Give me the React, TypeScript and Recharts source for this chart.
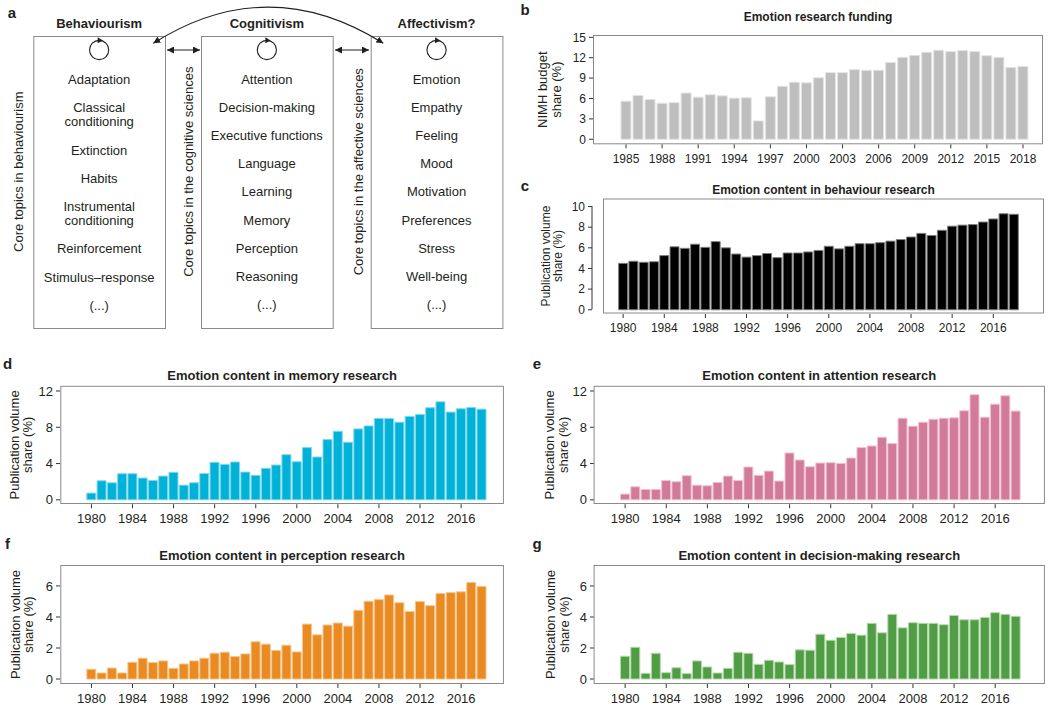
import React from 'react';
import { BarChart, Bar, XAxis, YAxis } from 'recharts';

const FONT = '"Liberation Sans", Arial, Helvetica, sans-serif';
const INK = '#231f20';
const FRAME = '#8a8a8a';

// ---- panel a topics
const behaviourTopics = ['Adaptation', 'Classical\nconditioning', 'Extinction', 'Habits', 'Instrumental\nconditioning', 'Reinforcement', 'Stimulus\u2013response', '(...)'];
const cognitiveTopics = ['Attention', 'Decision-making', 'Executive functions', 'Language', 'Learning', 'Memory', 'Perception', 'Reasoning', '(...)'];
const affectiveTopics = ['Emotion', 'Empathy', 'Feeling', 'Mood', 'Motivation', 'Preferences', 'Stress', 'Well-being', '(...)'];

// ---- bar data
const fundingYears = [1985, 1986, 1987, 1988, 1989, 1990, 1991, 1992, 1993, 1994, 1995, 1996, 1997, 1998, 1999, 2000, 2001, 2002, 2003, 2004, 2005, 2006, 2007, 2008, 2009, 2010, 2011, 2012, 2013, 2014, 2015, 2016, 2017, 2018];
const fundingShare = [5.6, 6.45, 5.85, 5.3, 5.4, 6.8, 6.2, 6.55, 6.4, 6.05, 6.1, 2.7, 6.25, 7.8, 8.4, 8.3, 9.05, 9.8, 9.8, 10.25, 10.15, 10.15, 11.3, 12.05, 12.35, 12.8, 13.1, 12.9, 13.05, 12.9, 12.3, 12.05, 10.55, 10.7];

const pubYears = [1980, 1981, 1982, 1983, 1984, 1985, 1986, 1987, 1988, 1989, 1990, 1991, 1992, 1993, 1994, 1995, 1996, 1997, 1998, 1999, 2000, 2001, 2002, 2003, 2004, 2005, 2006, 2007, 2008, 2009, 2010, 2011, 2012, 2013, 2014, 2015, 2016, 2017, 2018];
const behaviourShare = [4.5, 4.7, 4.6, 4.65, 5.25, 6.1, 5.95, 6.35, 6.05, 6.6, 6.0, 5.4, 5.1, 5.25, 5.45, 5.05, 5.5, 5.5, 5.6, 5.75, 6.15, 5.9, 6.15, 6.4, 6.4, 6.5, 6.65, 6.8, 7.05, 7.4, 7.2, 7.7, 8.1, 8.2, 8.25, 8.5, 8.8, 9.3, 9.25];
const memoryShare = [0.74, 2.1, 1.88, 2.88, 2.88, 2.4, 2.14, 2.62, 3.03, 1.62, 1.88, 2.9, 4.13, 3.9, 4.17, 3.06, 2.7, 3.47, 3.84, 4.98, 4.2, 5.76, 4.72, 6.64, 7.56, 6.35, 7.82, 8.15, 8.97, 8.97, 8.56, 9.19, 9.4, 10.15, 10.8, 9.67, 10.04, 10.18, 10.0];
const attentionShare = [0.63, 1.44, 1.14, 1.14, 2.14, 2.0, 2.66, 1.62, 1.55, 1.92, 2.62, 2.14, 3.62, 2.7, 3.17, 2.07, 5.17, 4.39, 3.65, 4.06, 4.1, 4.02, 4.61, 5.76, 5.94, 6.9, 6.2, 9.0, 8.12, 8.56, 8.89, 9.0, 9.04, 9.82, 11.59, 9.11, 10.55, 11.48, 9.78];
const perceptionShare = [0.63, 0.39, 0.71, 0.39, 1.08, 1.34, 1.06, 1.17, 0.69, 0.97, 1.17, 1.34, 1.66, 1.73, 1.45, 1.62, 2.4, 2.25, 1.84, 2.18, 1.75, 3.54, 2.85, 3.48, 3.61, 3.41, 4.43, 5.01, 5.12, 5.42, 4.92, 4.36, 4.99, 4.73, 5.51, 5.57, 5.62, 6.22, 5.96];
const decisionShare = [1.47, 2.05, 0.37, 1.66, 0.41, 0.73, 0.35, 1.17, 0.78, 0.39, 0.69, 1.73, 1.66, 0.95, 1.21, 1.1, 0.93, 1.88, 1.86, 2.89, 2.5, 2.68, 2.94, 2.83, 3.59, 2.98, 4.17, 3.3, 3.63, 3.59, 3.59, 3.5, 4.1, 3.82, 3.82, 3.97, 4.28, 4.17, 4.04];

type PanelSpec = {
  letter: string;
  letterPos: [number, number];
  title: string;
  titleY: number;
  years: number[];
  values: number[];
  box: [number, number, number, number]; // plot area used by recharts (axis side on the left)
  frameInset: number; // frame starts this far right of the y axis
  padL: number;
  padR: number;
  domain: [number, number];
  ticks: number[];
  interval: number;
  fontSize: number;
  labelSize: number;
  tickMargin: number;
  gap: string;
  fill: string;
  stroke: string;
  yLabel: string[];
  yLabelX: number[];
};

const panels: PanelSpec[] = [
  {
    letter: 'b', letterPos: [525, 9], title: 'Emotion research funding', titleY: 17,
    years: fundingYears, values: fundingShare, box: [593, 35, 1043, 144.3], frameInset: 0, padL: 27, padR: 14,
    domain: [-0.74, 15.34], ticks: [0, 3, 6, 9, 12, 15], interval: 2, fontSize: 12, labelSize: 13, tickMargin: 6, gap: '8%',
    fill: '#bebebe', stroke: '#e4e4e4', yLabel: ['NIMH budget', 'share (%)'], yLabelX: [543, 557],
  },
  {
    letter: 'c', letterPos: [525, 185], title: 'Emotion content in behaviour research', titleY: 190,
    years: pubYears, values: behaviourShare, box: [592, 198.5, 1044, 313.5], frameInset: 11, padL: 26, padR: 25,
    domain: [-0.41, 10.73], ticks: [0, 2, 4, 6, 8, 10], interval: 3, fontSize: 12, labelSize: 12, tickMargin: 5, gap: '6%',
    fill: '#000000', stroke: '#808080', yLabel: ['Publication volume', 'share (%)'], yLabelX: [546, 558],
  },
  {
    letter: 'd', letterPos: [7.5, 363.5], title: 'Emotion content in memory research', titleY: 375.2,
    years: pubYears, values: memoryShare, box: [60.3, 385.8, 503.9, 504], frameInset: 0, padL: 26.3, padR: 16.8,
    domain: [-0.48, 12.55], ticks: [0, 4, 8, 12], interval: 3, fontSize: 13, labelSize: 13, tickMargin: 6, gap: '5%',
    fill: '#00b2d8', stroke: '#80d7eb', yLabel: ['Publication volume', 'share (%)'], yLabelX: [15, 28],
  },
  {
    letter: 'e', letterPos: [537, 363.5], title: 'Emotion content in attention research', titleY: 375.2,
    years: pubYears, values: attentionShare, box: [593.6, 385.8, 1044.9, 504], frameInset: 0, padL: 26, padR: 24.4,
    domain: [-0.48, 12.55], ticks: [0, 4, 8, 12], interval: 3, fontSize: 13, labelSize: 13, tickMargin: 6, gap: '5%',
    fill: '#d27a9a', stroke: '#f2c3d3', yLabel: ['Publication volume', 'share (%)'], yLabelX: [550, 564],
  },
  {
    letter: 'f', letterPos: [7.5, 543.5], title: 'Emotion content in perception research', titleY: 555.2,
    years: pubYears, values: perceptionShare, box: [60.3, 565, 503.9, 684], frameInset: 0, padL: 26.3, padR: 16.8,
    domain: [-0.32, 7.35], ticks: [0, 2, 4, 6], interval: 3, fontSize: 13, labelSize: 13, tickMargin: 6, gap: '5%',
    fill: '#e98b22', stroke: '#f7c68c', yLabel: ['Publication volume', 'share (%)'], yLabelX: [15, 28],
  },
  {
    letter: 'g', letterPos: [537, 543.5], title: 'Emotion content in decision-making research', titleY: 555.2,
    years: pubYears, values: decisionShare, box: [593.6, 565, 1044.9, 684], frameInset: 0, padL: 26, padR: 24.4,
    domain: [-0.32, 7.35], ticks: [0, 2, 4, 6], interval: 3, fontSize: 13, labelSize: 13, tickMargin: 6, gap: '5%',
    fill: '#519d45', stroke: '#b6dbad', yLabel: ['Publication volume', 'share (%)'], yLabelX: [550, 564],
  },
];

const AXW = 50;
const XAH = 30;
const MT = 10; // room above the plot so the top tick label is not clipped

function YearBars({ spec }: { spec: PanelSpec }) {
  const [x1, y1, x2, y2] = spec.box;
  const w = x2 - x1;
  const h = y2 - y1;
  const data = spec.years.map((year, i) => ({ year, value: spec.values[i] }));
  return (
    <div style={{ position: 'absolute', left: x1 - AXW, top: y1 - MT }}>
      <BarChart width={AXW + w} height={h + MT + XAH} data={data} margin={{ top: MT, right: 0, bottom: 0, left: 0 }} barCategoryGap={spec.gap}>
        <XAxis
          dataKey="year"
          interval={spec.interval}
          axisLine={false}
          tickLine={{ stroke: '#333' }}
          tickSize={4}
          tickMargin={spec.tickMargin}
          padding={{ left: spec.padL, right: spec.padR }}
          tick={{ fontSize: spec.fontSize, fill: INK }}
          height={XAH}
        />
        <YAxis
          type="number"
          domain={spec.domain}
          ticks={spec.ticks}
          interval={0}
          allowDataOverflow
          axisLine={false}
          tickLine={{ stroke: '#333' }}
          tickSize={4}
          tickMargin={3}
          width={AXW}
          tick={{ fontSize: spec.fontSize, fill: INK }}
        />
        <Bar dataKey="value" fill={spec.fill} stroke={spec.stroke} strokeWidth={1} isAnimationActive={false} />
      </BarChart>
    </div>
  );
}

function PanelText({ spec }: { spec: PanelSpec }) {
  const [x1, y1, x2, y2] = spec.box;
  const fx = x1 + spec.frameInset;
  const cy = (y1 + y2) / 2;
  // y axis line runs from the lowest to the highest tick, as in base R
  const [dmin, dmax] = spec.domain;
  const yOf = (v: number) => y1 + ((dmax - v) / (dmax - dmin)) * (y2 - y1);
  const t0 = spec.ticks[0];
  const t1 = spec.ticks[spec.ticks.length - 1];
  return (
    <g>
      <rect x={fx + 0.5} y={y1 + 0.5} width={x2 - fx - 1} height={y2 - y1 - 1} fill="none" stroke={FRAME} strokeWidth={1} />
      {spec.frameInset > 0 && (
        <line x1={x1} x2={x1} y1={yOf(t0)} y2={yOf(t1)} stroke="#333" strokeWidth={1} />
      )}
      <text x={spec.letterPos[0]} y={spec.letterPos[1]} fontSize={15} fontWeight="bold" textAnchor="middle" dominantBaseline="central" fill={INK}>{spec.letter}</text>
      <text x={(fx + x2) / 2} y={spec.titleY} fontSize={spec.fontSize} fontWeight="bold" textAnchor="middle" dominantBaseline="central" fill={INK}>{spec.title}</text>
      {spec.yLabel.map((line, i) => (
        <text key={line} x={spec.yLabelX[i]} y={cy} fontSize={spec.labelSize} textAnchor="middle" dominantBaseline="central" fill={INK}
          transform={`rotate(-90 ${spec.yLabelX[i]} ${cy})`}>{line}</text>
      ))}
    </g>
  );
}

// one column of panel a
function TopicBox({ x1, x2, title, topics, sideLabel, sideX }: { x1: number; x2: number; title: string; topics: string[]; sideLabel: string; sideX: number }) {
  const cx = (x1 + x2) / 2;
  const lines: { text: string; y: number }[] = [];
  let y = 79.3;
  topics.forEach(t => {
    const parts = t.split('\n');
    parts.forEach((p, j) => {
      lines.push({ text: p, y: y + j * 14.4 });
    });
    y += (parts.length - 1) * 14.4 + 28.15;
  });
  return (
    <g>
      <rect x={x1 + 0.5} y={36.5} width={x2 - x1} height={292} fill="none" stroke={FRAME} strokeWidth={1} />
      <text x={cx} y={23.5} fontSize={13} fontWeight="bold" textAnchor="middle" dominantBaseline="central" fill={INK}>{title}</text>
      <circle cx={cx} cy={50} r={9.6} fill="none" stroke={INK} strokeWidth={1.1} />
      <path d={`M ${cx - 1.5} ${37.3} L ${cx + 3.8} ${40.4} L ${cx - 1.5} ${43.2} Z`} fill={INK} />
      {lines.map((l, i) => (
        <text key={i} x={cx} y={l.y} fontSize={13} textAnchor="middle" dominantBaseline="central" fill={INK}>{l.text}</text>
      ))}
      <text x={sideX} y={171.7} fontSize={13} textAnchor="middle" dominantBaseline="central" fill={INK}
        transform={`rotate(-90 ${sideX} 171.7)`}>{sideLabel}</text>
    </g>
  );
}

export default function App() {
  return (
    <div style={{ position: 'absolute', left: 0, top: 0, width: 1050, height: 707, background: '#fff', fontFamily: FONT, overflow: 'hidden' }}>
      {panels.map(p => <YearBars key={p.letter} spec={p} />)}
      <svg width={1050} height={707} style={{ position: 'absolute', left: 0, top: 0, pointerEvents: 'none', fontFamily: FONT }}>
        <defs>
          <marker id="head" viewBox="0 0 10 10" refX="10" refY="5" markerWidth="7" markerHeight="7" orient="auto-start-reverse" markerUnits="userSpaceOnUse">
            <path d="M 0 0 L 10 5 L 0 10 z" fill={INK} />
          </marker>
        </defs>
        <text x={12} y={12} fontSize={15} fontWeight="bold" textAnchor="middle" dominantBaseline="central" fill={INK}>a</text>
        <TopicBox x1={33.3} x2={165} title="Behaviourism" topics={behaviourTopics} sideLabel="Core topics in behaviourism" sideX={18.3} />
        <TopicBox x1={201} x2={332.7} title="Cognitivism" topics={cognitiveTopics} sideLabel="Core topics in the cognitive sciences" sideX={188.3} />
        <TopicBox x1={370.7} x2={502.4} title="Affectivism?" topics={affectiveTopics} sideLabel="Core topics in the affective sciences" sideX={358.3} />
        <line x1={167} y1={50} x2={200} y2={50} stroke={INK} strokeWidth={1.1} markerStart="url(#head)" markerEnd="url(#head)" />
        <line x1={335} y1={50} x2={369} y2={50} stroke={INK} strokeWidth={1.1} markerStart="url(#head)" markerEnd="url(#head)" />
        <path d="M 153.3 43.3 Q 268 -29 383.3 43.3" fill="none" stroke={INK} strokeWidth={1.1} markerStart="url(#head)" markerEnd="url(#head)" />
        {panels.map(p => <PanelText key={p.letter} spec={p} />)}
      </svg>
    </div>
  );
}
